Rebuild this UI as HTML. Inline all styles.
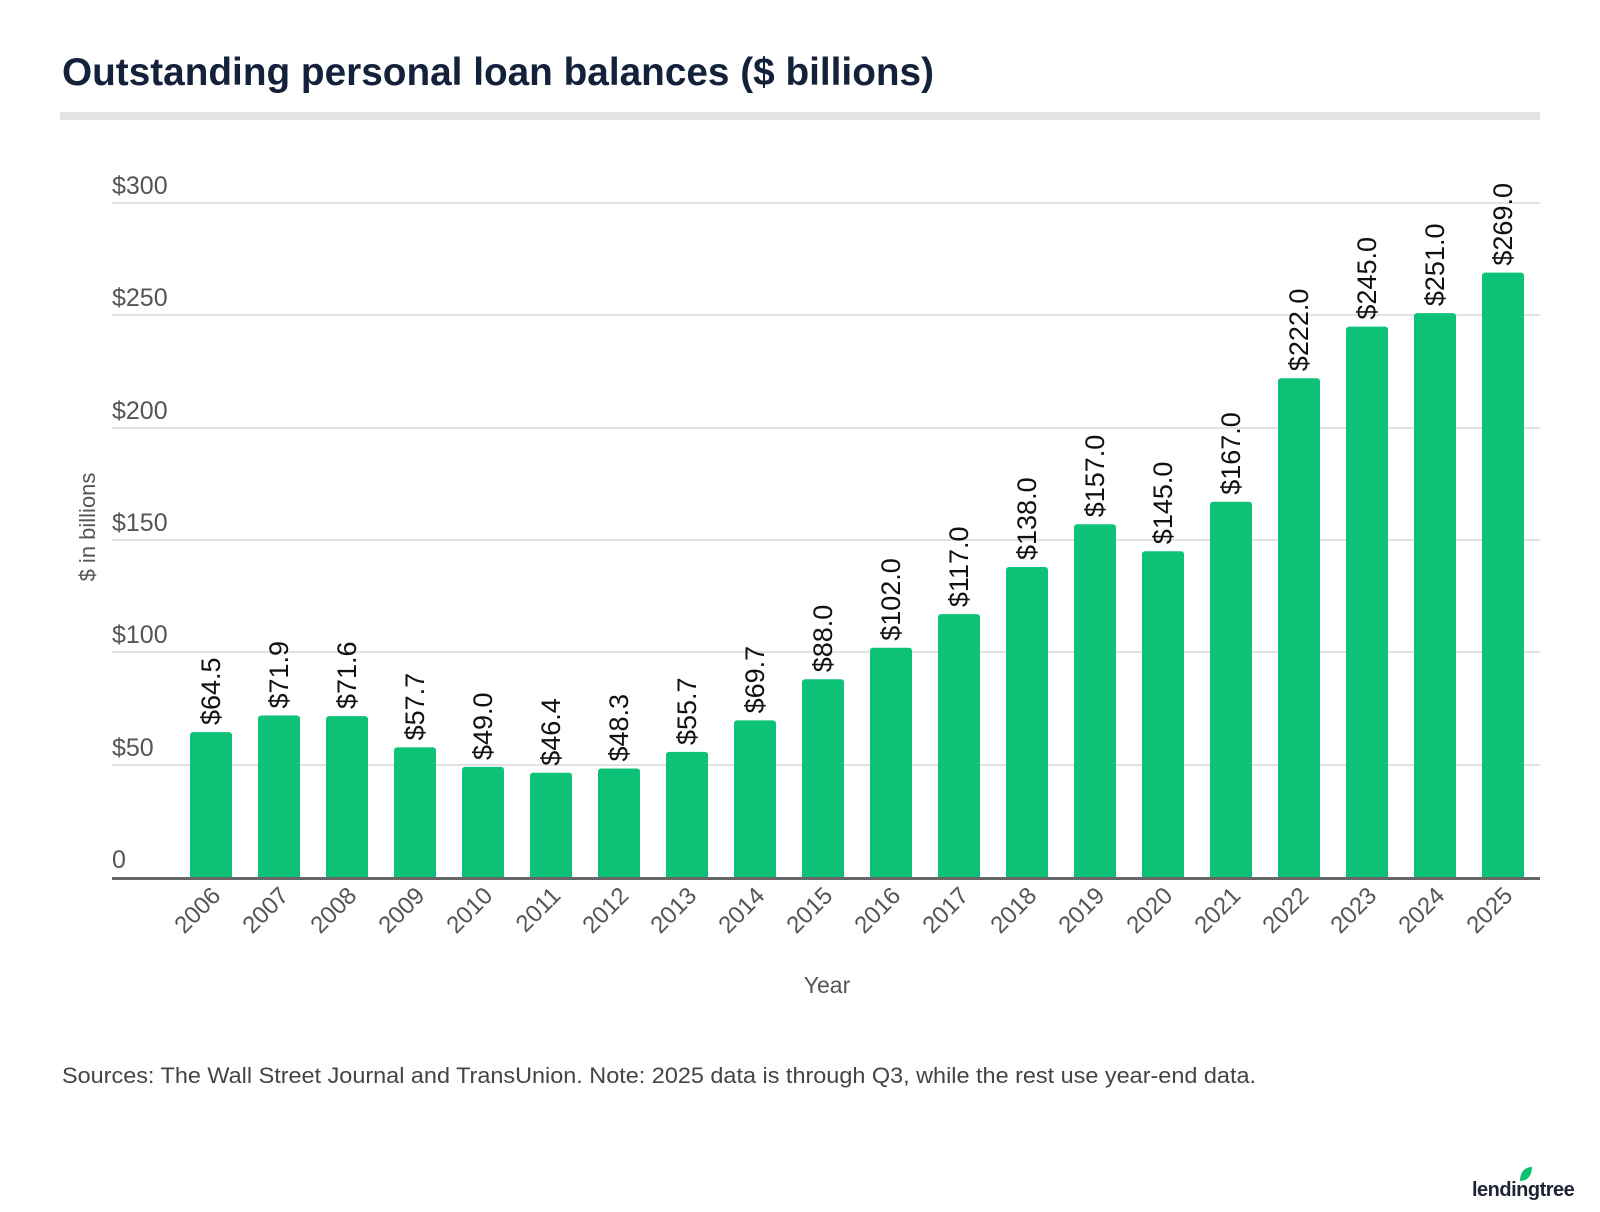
<!DOCTYPE html>
<html><head><meta charset="utf-8"><style>
html,body{margin:0;padding:0;background:#fff;}
svg{display:block;font-family:"Liberation Sans",sans-serif;}
</style></head><body>
<svg width="1600" height="1212" viewBox="0 0 1600 1212" xmlns="http://www.w3.org/2000/svg">
<text x="62" y="85" font-size="39" font-weight="bold" fill="#14213a" textLength="872" lengthAdjust="spacingAndGlyphs">Outstanding personal loan balances ($ billions)</text>
<rect x="60" y="112" width="1480" height="8" fill="#e3e3e3"/>
<g stroke="#e2e2e2" stroke-width="2">
<line x1="112" x2="1540" y1="203" y2="203"/>
<line x1="112" x2="1540" y1="315" y2="315"/>
<line x1="112" x2="1540" y1="428" y2="428"/>
<line x1="112" x2="1540" y1="540" y2="540"/>
<line x1="112" x2="1540" y1="652" y2="652"/>
<line x1="112" x2="1540" y1="765" y2="765"/>
</g>
<g font-size="25" fill="#555">
<text x="112" y="194">$300</text>
<text x="112" y="306">$250</text>
<text x="112" y="419">$200</text>
<text x="112" y="531">$150</text>
<text x="112" y="643">$100</text>
<text x="112" y="756">$50</text>
<text x="112" y="868">0</text>
</g>
<text transform="translate(95,527) rotate(-90)" text-anchor="middle" font-size="22" fill="#555">$ in billions</text>
<g fill="#0bc277">
<rect x="190" y="732.1" width="42" height="146.9" rx="3"/>
<rect x="258" y="715.5" width="42" height="163.5" rx="3"/>
<rect x="326" y="716.1" width="42" height="162.9" rx="3"/>
<rect x="394" y="747.4" width="42" height="131.6" rx="3"/>
<rect x="462" y="766.9" width="42" height="112.1" rx="3"/>
<rect x="530" y="772.8" width="42" height="106.2" rx="3"/>
<rect x="598" y="768.5" width="42" height="110.5" rx="3"/>
<rect x="666" y="751.9" width="42" height="127.1" rx="3"/>
<rect x="734" y="720.4" width="42" height="158.6" rx="3"/>
<rect x="802" y="679.3" width="42" height="199.7" rx="3"/>
<rect x="870" y="647.8" width="42" height="231.2" rx="3"/>
<rect x="938" y="614.1" width="42" height="264.9" rx="3"/>
<rect x="1006" y="567.0" width="42" height="312" rx="3"/>
<rect x="1074" y="524.3" width="42" height="354.7" rx="3"/>
<rect x="1142" y="551.2" width="42" height="327.8" rx="3"/>
<rect x="1210" y="501.8" width="42" height="377.2" rx="3"/>
<rect x="1278" y="378.2" width="42" height="500.8" rx="3"/>
<rect x="1346" y="326.6" width="42" height="552.4" rx="3"/>
<rect x="1414" y="313.1" width="42" height="565.9" rx="3"/>
<rect x="1482" y="272.6" width="42" height="606.4" rx="3"/>
</g>
<g font-size="27" fill="#111">
<text transform="translate(220,725) rotate(-90)">$64.5</text>
<text transform="translate(288,708.5) rotate(-90)">$71.9</text>
<text transform="translate(356,709) rotate(-90)">$71.6</text>
<text transform="translate(424,740.4) rotate(-90)">$57.7</text>
<text transform="translate(492,760) rotate(-90)">$49.0</text>
<text transform="translate(560,765.8) rotate(-90)">$46.4</text>
<text transform="translate(628,761.5) rotate(-90)">$48.3</text>
<text transform="translate(696,745) rotate(-90)">$55.7</text>
<text transform="translate(764,713.4) rotate(-90)">$69.7</text>
<text transform="translate(832,672.3) rotate(-90)">$88.0</text>
<text transform="translate(900,640.8) rotate(-90)">$102.0</text>
<text transform="translate(968,607.1) rotate(-90)">$117.0</text>
<text transform="translate(1036,560) rotate(-90)">$138.0</text>
<text transform="translate(1104,517.3) rotate(-90)">$157.0</text>
<text transform="translate(1172,544.2) rotate(-90)">$145.0</text>
<text transform="translate(1240,494.8) rotate(-90)">$167.0</text>
<text transform="translate(1308,371.2) rotate(-90)">$222.0</text>
<text transform="translate(1376,319.6) rotate(-90)">$245.0</text>
<text transform="translate(1444,306.1) rotate(-90)">$251.0</text>
<text transform="translate(1512,265.6) rotate(-90)">$269.0</text>
</g>
<g font-size="24" fill="#555" text-anchor="end">
<text transform="translate(222,897) rotate(-45)">2006</text>
<text transform="translate(290,897) rotate(-45)">2007</text>
<text transform="translate(358,897) rotate(-45)">2008</text>
<text transform="translate(426,897) rotate(-45)">2009</text>
<text transform="translate(494,897) rotate(-45)">2010</text>
<text transform="translate(562,897) rotate(-45)">2011</text>
<text transform="translate(630,897) rotate(-45)">2012</text>
<text transform="translate(698,897) rotate(-45)">2013</text>
<text transform="translate(766,897) rotate(-45)">2014</text>
<text transform="translate(834,897) rotate(-45)">2015</text>
<text transform="translate(902,897) rotate(-45)">2016</text>
<text transform="translate(970,897) rotate(-45)">2017</text>
<text transform="translate(1038,897) rotate(-45)">2018</text>
<text transform="translate(1106,897) rotate(-45)">2019</text>
<text transform="translate(1174,897) rotate(-45)">2020</text>
<text transform="translate(1242,897) rotate(-45)">2021</text>
<text transform="translate(1310,897) rotate(-45)">2022</text>
<text transform="translate(1378,897) rotate(-45)">2023</text>
<text transform="translate(1446,897) rotate(-45)">2024</text>
<text transform="translate(1514,897) rotate(-45)">2025</text>
</g>
<rect x="112" y="877" width="1428" height="3" fill="#666"/>
<text x="827" y="993" text-anchor="middle" font-size="23" fill="#555">Year</text>
<text x="62" y="1083" font-size="22" fill="#444" textLength="1194" lengthAdjust="spacingAndGlyphs">Sources: The Wall Street Journal and TransUnion. Note: 2025 data is through Q3, while the rest use year-end data.</text>
<g transform="translate(1520,1167)"><path d="M0,14 C0,4 6,0 12,0 C12,8 8,14 0,14 Z" fill="#0ebf73"/></g>
<text x="1472" y="1196" font-size="20" font-weight="bold" fill="#1d2433" letter-spacing="-0.5">lendingtree</text>
</svg>
</body></html>
